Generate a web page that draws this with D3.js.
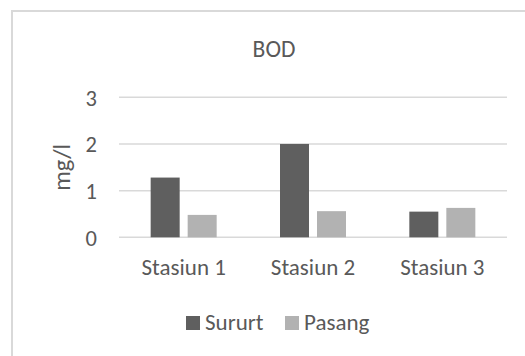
<!DOCTYPE html>
<html>
<head>
<meta charset="utf-8">
<script src="https://cdn.jsdelivr.net/npm/d3@7"></script>
<style>
  html, body { margin: 0; padding: 0; background: #fff; }
  svg { display: block; }
  text { font-family: Carlito, Calibri, Lato, sans-serif; fill: #595959; }
</style>
</head>
<body>
<svg id="chart" width="525" height="356"></svg>
<script>
// BOD per station, two sampling conditions
const categories = ["Stasiun 1", "Stasiun 2", "Stasiun 3"];
const seriesNames = ["Sururt", "Pasang"];
const sururtValues = [1.28, 2.0, 0.55];
const pasangValues = [0.48, 0.56, 0.63];
const yTicks = [0, 1, 2, 3];
const chartTitle = "BOD";
const yTitle = "mg/l";

const seriesValues = [sururtValues, pasangValues];
const colors = ["#5f5f5f", "#b2b2b2"];

const svg = d3.select("#chart");

// chart area frame (runs off the right and bottom edges)
svg.append("rect")
  .attr("x", 12).attr("y", 11)
  .attr("width", 600).attr("height", 500)
  .attr("fill", "#fff")
  .attr("stroke", "#d9d9d9")
  .attr("stroke-width", 2);

const plot = { left: 119, right: 507, top: 97.3, bottom: 237.3 };

const x0 = d3.scaleBand()
  .domain(categories)
  .range([plot.left, plot.right])
  .paddingInner(0).paddingOuter(0);

const x1 = d3.scaleBand()
  .domain(seriesNames)
  .range([-33, 33])
  .paddingInner(8 / 37);

const y = d3.scaleLinear()
  .domain([0, 3])
  .range([plot.bottom, plot.top]);

// gridlines
svg.append("g")
  .selectAll("line")
  .data(yTicks)
  .join("line")
  .attr("x1", plot.left).attr("x2", plot.right)
  .attr("y1", d => y(d)).attr("y2", d => y(d))
  .attr("stroke", "#d9d9d9")
  .attr("stroke-width", 1.5);

// y axis labels
const yAxis = d3.axisLeft(y).tickValues(yTicks).tickSize(0).tickPadding(0).tickFormat(d3.format("d"));
const yg = svg.append("g")
  .attr("transform", `translate(${plot.left - 22},0)`)
  .call(yAxis);
yg.select(".domain").remove();
yg.selectAll("text")
  .attr("font-size", 22.5)
  .attr("dy", "0.35em")
  .style("font-family", null);

// x axis labels
const xAxis = d3.axisBottom(x0).tickSize(0).tickPadding(0);
const xg = svg.append("g")
  .attr("transform", `translate(0,${plot.bottom + 38})`)
  .call(xAxis);
xg.select(".domain").remove();
xg.selectAll("text")
  .attr("font-size", 23)
  .attr("dy", 0)
  .attr("y", 0)
  .style("font-family", null);

// bars
const groups = svg.append("g")
  .selectAll("g")
  .data(categories)
  .join("g")
  .attr("transform", d => `translate(${x0(d) + x0.bandwidth() / 2},0)`);

groups.selectAll("rect")
  .data((d, i) => seriesNames.map((s, j) => ({ s, j, v: seriesValues[j][i] })))
  .join("rect")
  .attr("x", d => x1(d.s))
  .attr("width", x1.bandwidth())
  .attr("y", d => y(d.v))
  .attr("height", d => y(0) - y(d.v))
  .attr("fill", d => colors[d.j]);

// title
svg.append("text")
  .attr("x", 274).attr("y", 57)
  .attr("text-anchor", "middle")
  .attr("font-size", 23.5)
  .text(chartTitle);

// y axis title
svg.append("text")
  .attr("transform", `translate(70,${(plot.top + plot.bottom) / 2}) rotate(-90)`)
  .attr("text-anchor", "middle")
  .attr("font-size", 24.5)
  .text(yTitle);

// legend
const legend = svg.append("g").attr("transform", "translate(186,330)");
const legendX = [0, 99];
seriesNames.forEach((s, j) => {
  const g = legend.append("g").attr("transform", `translate(${legendX[j]},0)`);
  g.append("rect").attr("x", 0).attr("y", -14).attr("width", 14).attr("height", 14).attr("fill", colors[j]);
  g.append("text").attr("x", 19).attr("y", 0).attr("font-size", 23).text(s);
});
</script>
</body>
</html>
